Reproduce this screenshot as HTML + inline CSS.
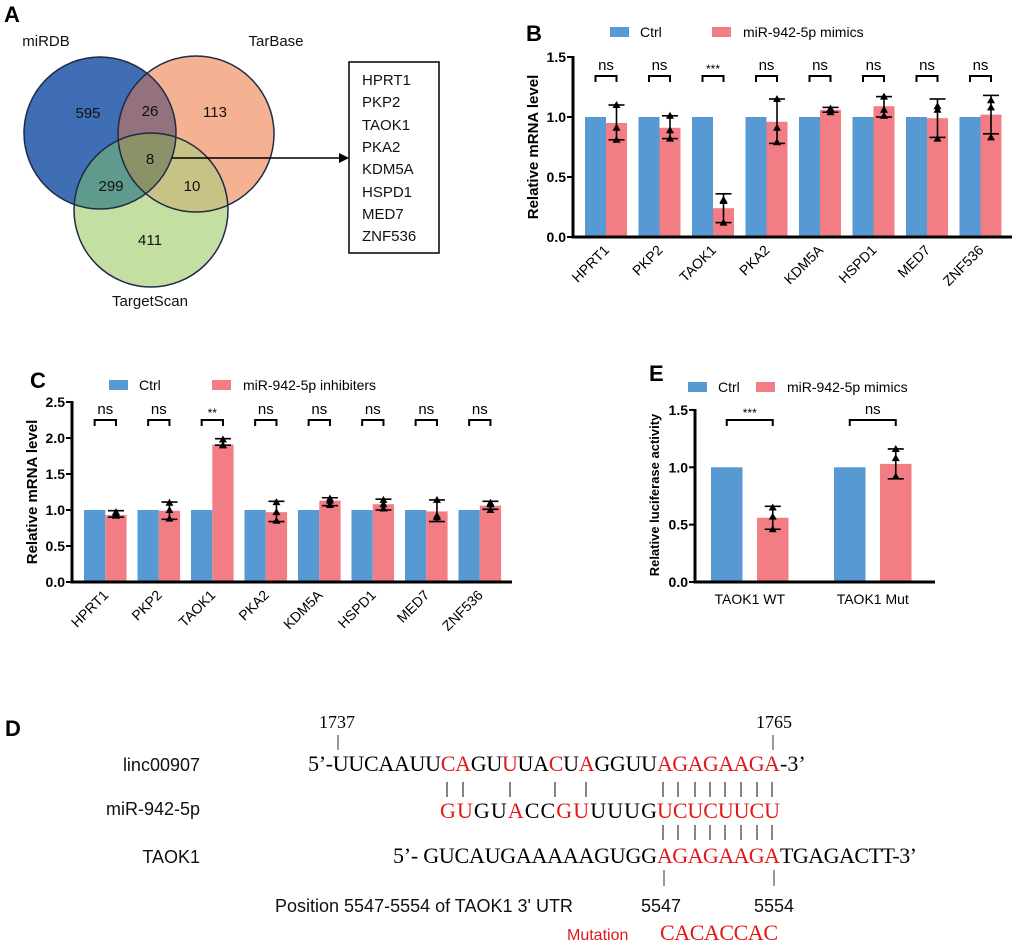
<!DOCTYPE html>
<html><head><meta charset="utf-8"><style>
body{margin:0;background:#fff;}
svg{display:block;font-family:"Liberation Sans",Arial,sans-serif;}
</style></head><body>
<svg id="fig" width="1020" height="946" viewBox="0 0 1020 946" xmlns="http://www.w3.org/2000/svg">
<defs>
<clipPath id="cB"><circle cx="100" cy="133" r="76"/></clipPath>
<clipPath id="cO"><circle cx="196" cy="134" r="78"/></clipPath>
<clipPath id="cG"><circle cx="151" cy="210" r="77"/></clipPath>
</defs>
<!-- Panel A -->
<g>
<text x="4" y="22" font-size="22" font-weight="bold">A</text>
<circle cx="100" cy="133" r="76" fill="#3f6eb5"/>
<circle cx="196" cy="134" r="78" fill="#f4b292"/>
<circle cx="151" cy="210" r="77" fill="#c4dfa2"/>
<g clip-path="url(#cB)"><circle cx="196" cy="134" r="78" fill="#94717f"/></g>
<g clip-path="url(#cB)"><circle cx="151" cy="210" r="77" fill="#5e9b8c"/></g>
<g clip-path="url(#cO)"><circle cx="151" cy="210" r="77" fill="#c9c286"/></g>
<g clip-path="url(#cB)"><g clip-path="url(#cO)"><circle cx="151" cy="210" r="77" fill="#8c9268"/></g></g>
<g fill="none" stroke="#1f2a44" stroke-width="1.5">
<circle cx="100" cy="133" r="76"/><circle cx="196" cy="134" r="78"/><circle cx="151" cy="210" r="77"/></g>
<g font-size="15" fill="#111" text-anchor="middle">
<text x="46" y="46">miRDB</text>
<text x="276" y="46">TarBase</text>
<text x="150" y="306">TargetScan</text>
<text x="88" y="118">595</text><text x="150" y="116">26</text><text x="215" y="117">113</text>
<text x="150" y="164">8</text><text x="111" y="191">299</text><text x="192" y="191">10</text><text x="150" y="245">411</text>
</g>
<line x1="172" y1="158" x2="340" y2="158" stroke="#000" stroke-width="1.5"/>
<polygon points="349,158 339,153 339,163" fill="#000"/>
<rect x="349" y="62" width="90" height="191" fill="#fff" stroke="#000" stroke-width="1.5"/>
<g font-size="15" fill="#111">
<text x="362" y="85">HPRT1</text><text x="362" y="107">PKP2</text><text x="362" y="130">TAOK1</text><text x="362" y="152">PKA2</text>
<text x="362" y="174">KDM5A</text><text x="362" y="197">HSPD1</text><text x="362" y="219">MED7</text><text x="362" y="241">ZNF536</text>
</g>
</g>
<g id="charts"></g>
<!-- Panel D -->
<g font-family="'Liberation Serif',serif" font-size="22">
<text x="5" y="736" font-size="22" font-weight="bold" font-family="'Liberation Sans',sans-serif">D</text>
<g font-family="'Liberation Serif',serif" font-size="18">
<text x="319" y="728">1737</text><text x="756" y="728">1765</text></g>
<line x1="338" y1="735" x2="338" y2="750" stroke="#333"/><line x1="773" y1="735" x2="773" y2="750" stroke="#333"/>
<g font-family="'Liberation Sans',sans-serif" font-size="18" fill="#111">
<text x="200" y="771" text-anchor="end">linc00907</text>
<text x="200" y="815" text-anchor="end">miR-942-5p</text>
<text x="200" y="863" text-anchor="end">TAOK1</text>
<text x="275" y="912">Position 5547-5554 of TAOK1 3' UTR</text>
<text x="641" y="912">5547</text><text x="754" y="912">5554</text>
<text x="567" y="940" font-size="16" fill="#e01818">Mutation</text>
</g>
<g>
<text x="308" y="771" textLength="349" lengthAdjust="spacing">5’-UUCAAUU<tspan fill="#e01818">CA</tspan>GU<tspan fill="#e01818">U</tspan>UA<tspan fill="#e01818">C</tspan>U<tspan fill="#e01818">A</tspan>GGUU</text>
<text x="657" y="771" textLength="123" lengthAdjust="spacing" fill="#e01818">AGAGAAGA</text>
<text x="780" y="771">-3’</text>
</g>
<g>
<text x="440" y="818" textLength="217" lengthAdjust="spacing"><tspan fill="#e01818">GU</tspan>GU<tspan fill="#e01818">A</tspan>CC<tspan fill="#e01818">GU</tspan>UUUG</text>
<text x="657" y="818" textLength="123" lengthAdjust="spacing" fill="#e01818">UCUCUUCU</text>
</g>
<g>
<text x="393" y="863" textLength="264" lengthAdjust="spacing">5’- GUCAUGAAAAAGUGG</text>
<text x="657" y="863" textLength="123" lengthAdjust="spacing" fill="#e01818">AGAGAAGA</text>
<text x="780" y="863" textLength="137" lengthAdjust="spacing">TGAGACTT-3’</text>
</g>
<text x="660" y="940" textLength="118" lengthAdjust="spacing" fill="#e01818">CACACCAC</text>
<g stroke="#333" stroke-width="1.2" id="pairs"></g>
<line x1="664" y1="870" x2="664" y2="886" stroke="#333"/><line x1="774" y1="870" x2="774" y2="886" stroke="#333"/>
</g>
</svg>
<script>
const NS="http://www.w3.org/2000/svg";
// Panel B data
const bGenes=["HPRT1","PKP2","TAOK1","PKA2","KDM5A","HSPD1","MED7","ZNF536"];
const bCtrl=[1,1,1,1,1,1,1,1];
const bMimic=[0.95,0.91,0.24,0.96,1.06,1.09,0.99,1.02];
const bErrLo=[0.81,0.82,0.12,0.78,1.04,1.00,0.83,0.86];
const bErrHi=[1.10,1.01,0.36,1.15,1.08,1.17,1.15,1.18];
const bPts=[[1.10,0.91,0.81],[1.01,0.89,0.82],[0.30,0.31,0.12],[1.15,0.91,0.79],[1.04,1.07,1.06],[1.17,1.06,1.01],[1.06,1.09,0.82],[1.14,1.08,0.83]];
const bSig=["ns","ns","***","ns","ns","ns","ns","ns"];
const bTicks=[0,0.5,1.0,1.5];
// Panel C data
const cGenes=["HPRT1","PKP2","TAOK1","PKA2","KDM5A","HSPD1","MED7","ZNF536"];
const cCtrl=[1,1,1,1,1,1,1,1];
const cInhib=[0.93,0.99,1.91,0.97,1.13,1.08,0.98,1.06];
const cErrLo=[0.90,0.87,1.90,0.84,1.06,1.00,0.84,1.01];
const cErrHi=[0.99,1.11,1.99,1.12,1.17,1.15,1.14,1.12];
const cPts=[[0.92,0.97,0.95],[1.10,1.00,0.88],[1.98,1.90,1.90],[1.11,0.97,0.85],[1.13,1.07,1.16],[1.08,1.02,1.14],[1.14,0.92,0.90],[1.10,1.00,1.08]];
const cSig=["ns","ns","**","ns","ns","ns","ns","ns"];
const cTicks=[0,0.5,1.0,1.5,2.0,2.5];
// Panel E data
const eGroups=["TAOK1 WT","TAOK1 Mut"];
const eCtrl=[1,1];
const eMimic=[0.56,1.03];
const eErrLo=[0.46,0.90];
const eErrHi=[0.66,1.16];
const ePts=[[0.65,0.57,0.46],[1.16,1.08,0.92]];
const eSig=["***","ns"];
const eTicks=[0,0.5,1.0,1.5];

const BLUE="#5799d3", PINK="#f27d84";
function el(tag,attrs,parent,txt){const e=document.createElementNS(NS,tag);for(const k in attrs)e.setAttribute(k,attrs[k]);if(txt!==undefined)e.textContent=txt;(parent||document.getElementById('charts')).appendChild(e);return e;}
function tri(g,x,y){el('polygon',{points:`${x},${y-4} ${x-4},${y+3} ${x+4},${y+3}`,fill:'#000'},g);}

function chart(o){
  const g=el('g',{});
  
  
  const yS=v=>o.y0-v*o.ppu;
  const top=yS(o.ticks[o.ticks.length-1]);
  o.cats.forEach((c,i)=>{
    const bx=o.x0+i*o.pitch;
    const r1=el('rect',{x:bx,y:yS(o.ctrl[i]),width:o.bw,height:o.ctrl[i]*o.ppu,fill:BLUE},g);
    
    
    const px=bx+o.bw+o.gap;
    const r2=el('rect',{x:px,y:yS(o.trt[i]),width:o.bw,height:o.trt[i]*o.ppu,fill:PINK},g);
    
    
    const cx=px+o.bw/2;
    el('line',{x1:cx,x2:cx,y1:yS(o.lo[i]),y2:yS(o.hi[i]),stroke:'#000','stroke-width':1.6},g);
    [o.lo[i],o.hi[i]].forEach(v=>el('line',{x1:cx-8,x2:cx+8,y1:yS(v),y2:yS(v),stroke:'#000','stroke-width':1.6},g));
    o.pts[i].forEach(v=>tri(g,cx,yS(v)));
    const bc=bx+o.bw/2;
    el('path',{d:`M${bc},${o.brY+6} V${o.brY} H${cx} V${o.brY+6}`,fill:'none',stroke:'#000','stroke-width':2},g);
    el('text',{x:(bc+cx)/2,y:o.brY-(o.sig[i]==='ns'?6:3),'text-anchor':'middle','font-size':o.sig[i]==='ns'?15:12},g,o.sig[i]);
    if(o.rot){
      const lx=bx+o.bw+o.gap/2+4, ly=o.y0+14;
      const t=el('text',{x:lx,y:ly,'text-anchor':'end','font-size':14,transform:`rotate(-45 ${lx} ${ly})`},g,c);
      
      
    } else {
      const t=el('text',{x:bx+o.bw+o.gap/2,y:o.y0+22,'text-anchor':'middle','font-size':14},g,c);
      
      
    }
  });
  el('line',{x1:o.ax,x2:o.ax,y1:top-1,y2:o.y0+1.5,stroke:'#000','stroke-width':3},g);
  el('line',{x1:o.ax-1.5,x2:o.xEnd,y1:o.y0,y2:o.y0,stroke:'#000','stroke-width':3},g);
  o.ticks.forEach(t=>{
    el('line',{x1:o.ax-6,x2:o.ax,y1:yS(t),y2:yS(t),stroke:'#000','stroke-width':2},g);
    const tl=el('text',{x:o.ax-7,y:yS(t)+5,'text-anchor':'end','font-size':14,'font-weight':'bold'},g,t.toFixed(1));
    
    
  });
  const yt=el('text',{x:o.ytX,y:o.ytY,'text-anchor':'middle','font-size':o.ytFs||15,'font-weight':'bold',transform:`rotate(-90 ${o.ytX} ${o.ytY})`},g,o.ytitle);
  
  
  const pl=el('text',{x:o.pl[0],y:o.pl[1],'font-size':22,'font-weight':'bold'},g,o.plTxt);
  
  
  const l1=el('rect',{x:o.leg[0],y:o.leg[1],width:19,height:10,fill:BLUE},g);
  
  
  el('text',{x:o.leg[0]+30,y:o.leg[1]+10,'font-size':14},g,'Ctrl');
  const l2=el('rect',{x:o.leg[2],y:o.leg[1],width:19,height:10,fill:PINK},g);
  
  
  el('text',{x:o.leg[2]+31,y:o.leg[1]+10,'font-size':14},g,o.legTxt);
}
chart({name:'panel-b-chart',cats:bGenes,ctrl:bCtrl,trt:bMimic,lo:bErrLo,hi:bErrHi,pts:bPts,sig:bSig,ticks:bTicks,
  y0:237,ppu:120,x0:585,bw:21,gap:0,pitch:53.5,ax:573,xEnd:1012,brY:76,rot:true,ytitle:'Relative mRNA level',ytX:538,ytY:147,
  pl:[526,41],plTxt:'B',leg:[610,27,712],legTxt:'miR-942-5p mimics'});
chart({name:'panel-c-chart',cats:cGenes,ctrl:cCtrl,trt:cInhib,lo:cErrLo,hi:cErrHi,pts:cPts,sig:cSig,ticks:cTicks,
  y0:582,ppu:72,x0:84,bw:21.3,gap:0,pitch:53.5,ax:72,xEnd:512,brY:420,rot:true,ytitle:'Relative mRNA level',ytX:37,ytY:492,
  pl:[30,388],plTxt:'C',leg:[109,380,212],legTxt:'miR-942-5p inhibiters'});
chart({name:'panel-e-chart',cats:eGroups,ctrl:eCtrl,trt:eMimic,lo:eErrLo,hi:eErrHi,pts:ePts,sig:eSig,ticks:eTicks,
  y0:582,ppu:114.7,x0:711,bw:31.5,gap:14.5,pitch:123,ax:695,xEnd:935,brY:420,rot:false,ytitle:'Relative luciferase activity',ytX:659,ytY:495,ytFs:13,
  pl:[649,381],plTxt:'E',leg:[688,382,756],legTxt:'miR-942-5p mimics'});
const pairRow1=[447,463,510,555,586,663,678,695,710,725,741,757,772];
const pairRow2=[663,678,695,710,725,741,757,772];
const pg=document.getElementById('pairs');
pairRow1.forEach(x=>el('line',{x1:x,x2:x,y1:782,y2:797},pg));
pairRow2.forEach(x=>el('line',{x1:x,x2:x,y1:825,y2:840},pg));
</script>
</body></html>
